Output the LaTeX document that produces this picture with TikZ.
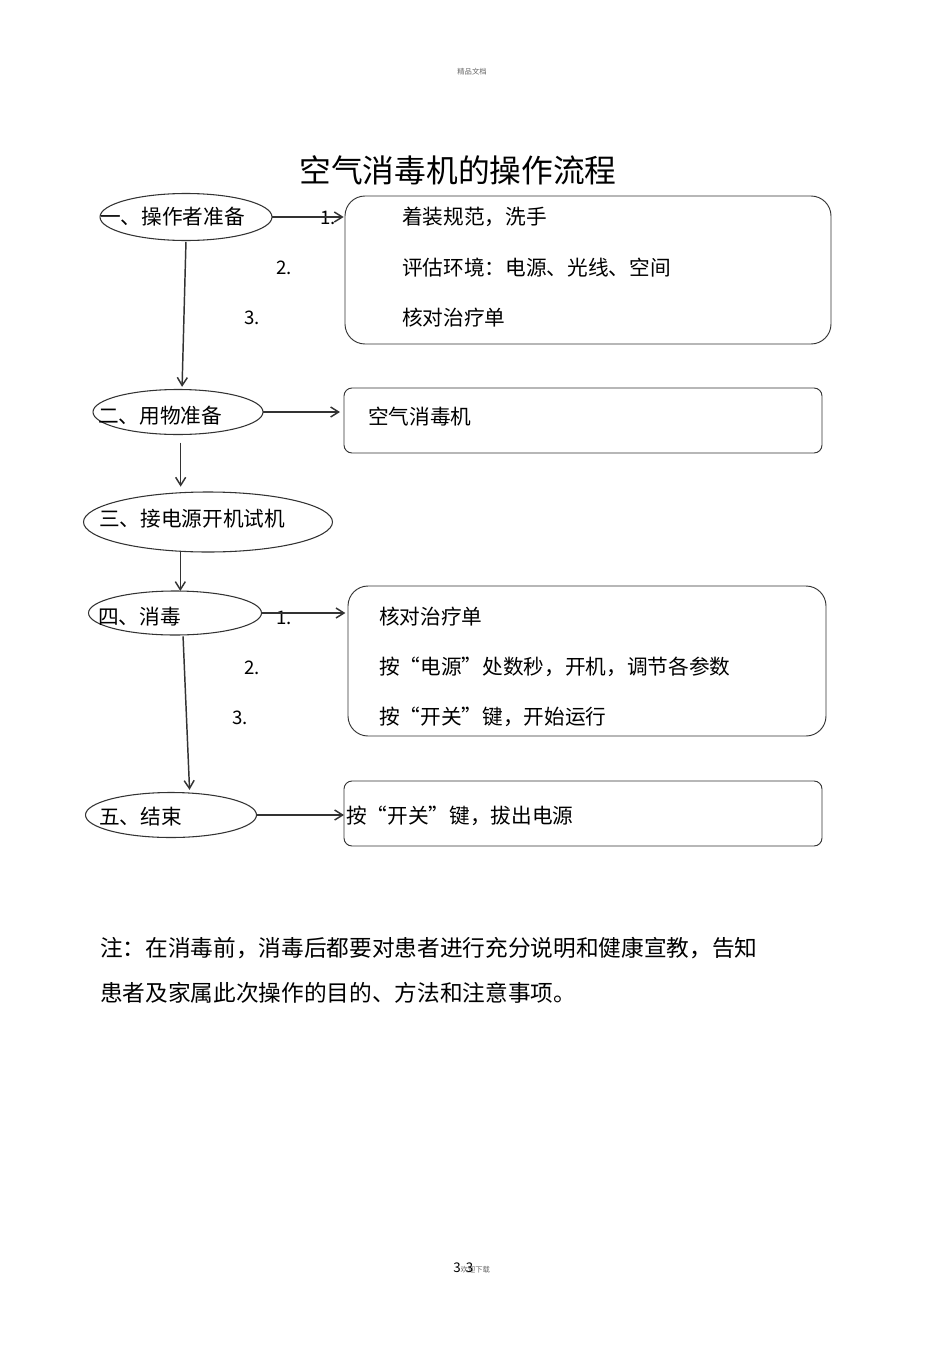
\documentclass[tikz,border=0pt]{standalone}
\usepackage{fontspec}
\setmainfont{Noto Sans CJK SC}
\usetikzlibrary{shapes.geometric,arrows.meta}

\begin{document}
\begin{tikzpicture}[x=0.75pt, y=-0.75pt,
  step oval/.style={draw=black!80, line width=0.8pt, ellipse, inner sep=0pt, outer sep=0pt},
  item box/.style={draw=black!80, line width=0.7pt, rectangle, inner sep=0pt, outer sep=0pt, minimum width=358.5pt},
  txt/.style={anchor=west, inner sep=0pt, font=\fontsize{15.5pt}{18pt}\selectfont},
  num/.style={inner sep=0pt, font=\fontsize{14pt}{16pt}\selectfont},
  flow/.style={draw=black!80, line width=1.1pt, -{Straight Barb[length=6pt, width=7.5pt]}}]
  \useasboundingbox (0, 0) rectangle (950, 1345);

  % header and title
  \node[inner sep=0pt, text=black!60, font=\fontsize{5.5pt}{6pt}\selectfont] (head) at (472, 72) {精品文档};
  \node[inner sep=0pt, font=\fontsize{23.8pt}{28pt}\selectfont] (title) at (458, 170) {空气消毒机的操作流程};

  % steps
  \node[step oval, minimum width=129pt, minimum height=35.25pt] (e1) at (186, 217) {};
  \node[txt] (t1) at (100, 217) {一、操作者准备};
  \node[step oval, minimum width=127.5pt, minimum height=33.75pt] (e2) at (178, 412) {};
  \node[txt] (t2) at (98, 416) {二、用物准备};
  \node[step oval, minimum width=186.75pt, minimum height=45pt] (e3) at (208, 522) {};
  \node[txt] (t3) at (99, 519) {三、接电源开机试机};
  \node[step oval, minimum width=129.75pt, minimum height=33pt] (e4) at (175, 613) {};
  \node[txt] (t4) at (98, 617) {四、消毒};
  \node[step oval, minimum width=128.25pt, minimum height=33.75pt] (e5) at (171, 815) {};
  \node[txt] (t5) at (99, 817) {五、结束};

  % boxes
  \node[item box, minimum width=364.5pt, minimum height=111pt, rounded corners=15pt] (b1) at (588, 270) {};
  \node[txt] (b1a) at (402, 217) {着装规范，洗手};
  \node[txt] (b1b) at (402, 268) {评估环境：电源、光线、空间};
  \node[txt] (b1c) at (402, 318) {核对治疗单};
  \node[item box, minimum height=48.75pt, rounded corners=6pt] (b2) at (583, 420.5) {};
  \node[txt] (b2a) at (368, 417) {空气消毒机};
  \node[item box, minimum height=112.5pt, rounded corners=15pt] (b4) at (587, 661) {};
  \node[txt] (b4a) at (379, 617) {核对治疗单};
  \node[txt] (b4b) at (379, 667) {按“电源”处数秒，开机，调节各参数};
  \node[txt] (b4c) at (379, 717) {按“开关”键，开始运行};
  \node[item box, minimum height=48.75pt, rounded corners=6pt] (b5) at (583, 813.5) {};
  \node[txt] (b5a) at (346, 816) {按“开关”键，拔出电源};

  % numbers
  \node[num] (n11) at (328, 218) {1.};
  \node[num] (n12) at (284, 268) {2.};
  \node[num] (n13) at (252, 318) {3.};
  \node[num] (n41) at (284, 618) {1.};
  \node[num] (n42) at (252, 668) {2.};
  \node[num] (n43) at (240, 718) {3.};

  % arrows
  \draw[flow] (e1.east) -- ([xshift=-1pt]b1.west |- e1.east);
  \draw[flow] (e2.east) -- ([xshift=-3pt]b2.west |- e2.east);
  \draw[flow] (e4.east) -- ([xshift=-2pt]b4.west |- e4.east);
  \draw[flow] (e5.east) -- (b5.west |- e5.east);
  \draw[flow, shorten <=1pt, shorten >=2pt] (e1.south) -- ([xshift=-3pt]e1.south |- e2.north);
  \draw[flow, shorten <=6pt, shorten >=4pt] ([xshift=2pt]e2.south) -- ([xshift=2pt]e2.south |- e3.north);
  \draw[flow] ([xshift=4pt]e4.north |- e3.south) -- ([xshift=4pt]e4.north);
  \draw[flow, shorten <=1pt, shorten >=2pt] ([xshift=6pt]e4.south) -- ([xshift=11pt]e4.south |- e5.north);

  % note
  \node[anchor=west, inner sep=0pt, font=\fontsize{17pt}{20pt}\selectfont] (note1) at (100, 948) {注：在消毒前，消毒后都要对患者进行充分说明和健康宣教，告知};
  \node[anchor=west, inner sep=0pt, font=\fontsize{17pt}{20pt}\selectfont] (note2) at (100, 993) {患者及家属此次操作的目的、方法和注意事项。};

  % footer
  \node[anchor=west, inner sep=0pt, font=\fontsize{10pt}{11pt}\selectfont] (foot) at (453, 1268)
    {3{\fontsize{5.5pt}{6pt}\selectfont\color{black!60}欢迎}\llap{3\hspace{1.5pt}}{\fontsize{5.5pt}{6pt}\selectfont\color{black!60}下载}};
\end{tikzpicture}
\end{document}
